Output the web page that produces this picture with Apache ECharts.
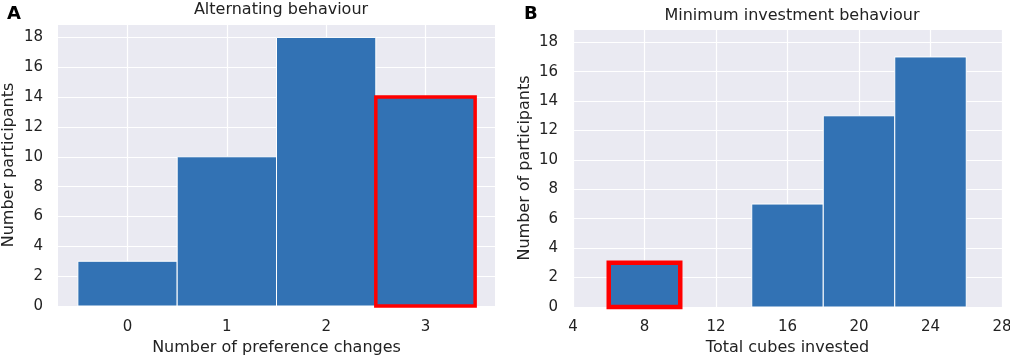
<!DOCTYPE html>
<html>
<head>
<meta charset="utf-8">
<script src="https://cdn.jsdelivr.net/npm/echarts@6/dist/echarts.min.js"></script>
<style>
html,body{margin:0;padding:0;background:#fff;}
#c{width:1010px;height:356px;}
</style>
</head>
<body>
<div id="c"></div>
<script>
// Panel A: alternating behaviour
const aBinEdges = [-0.5, 0.5, 1.5, 2.5, 3.5];
const aCounts = [3, 10, 18, 14];
const aTicks = [0, 1, 2, 3];
const aHighlight = [3];

// Panel B: minimum investment behaviour
const bBinEdges = [6, 10, 14, 18, 22, 26];
const bCounts = [3, 0, 7, 13, 17];
const bHighlight = [0];

const yTicks = [0, 2, 4, 6, 8, 10, 12, 14, 16, 18];

const FONT = 'DejaVu Sans';
const TXT = '#222222';
const BAR = '#3272B4';

function histData(edges, counts) {
  return counts.map((c, i) => [edges[i], edges[i + 1], c, i]);
}

function makeRender(highlight, redWidth) {
  return function (params, api) {
    const x0 = api.value(0), x1 = api.value(1), h = api.value(2), idx = api.value(3);
    if (h <= 0) return null;
    const p0 = api.coord([x0, h]);
    const p1 = api.coord([x1, 0]);
    const rect = { x: p0[0], y: p0[1], width: p1[0] - p0[0], height: p1[1] - p0[1] };
    const hl = highlight.indexOf(idx) >= 0;
    return {
      type: 'rect',
      shape: rect,
      style: hl
        ? { fill: BAR, stroke: '#FF0000', lineWidth: redWidth }
        : { fill: BAR, stroke: '#FFFFFF', lineWidth: 1 }
    };
  };
}

const yLabelFmt = v => (Number.isInteger(v) && v % 2 === 0) ? String(v) : '';

const chart = echarts.init(document.getElementById('c'));
chart.setOption({
  animation: false,
  backgroundColor: '#FFFFFF',
  textStyle: { fontFamily: FONT },
  title: [
    { text: 'A', left: 2, top: 0, textStyle: { fontFamily: FONT, fontWeight: 'bold', fontSize: 18, color: '#000' } },
    { text: 'B', left: 519, top: 0, textStyle: { fontFamily: FONT, fontWeight: 'bold', fontSize: 18, color: '#000' } },
    { text: 'Alternating behaviour', left: 276, textAlign: 'center', top: -3, textStyle: { fontFamily: FONT, fontWeight: 'normal', fontSize: 16, color: TXT } },
    { text: 'Minimum investment behaviour', left: 787, textAlign: 'center', top: 3, textStyle: { fontFamily: FONT, fontWeight: 'normal', fontSize: 16, color: TXT } }
  ],
  grid: [
    { left: 58, right: 515, top: 24, bottom: 50, show: true, backgroundColor: '#EAEAF2', borderWidth: 0, containLabel: false, outerBoundsMode: 'none' },
    { left: 573, right: 8, top: 29, bottom: 49, show: true, backgroundColor: '#EAEAF2', borderWidth: 0, containLabel: false, outerBoundsMode: 'none' }
  ],
  xAxis: [
    {
      type: 'value', gridIndex: 0, min: -0.7, max: 3.7,
      name: 'Number of preference changes', nameLocation: 'middle', nameGap: 33,
      nameTextStyle: { fontFamily: FONT, fontSize: 16, color: TXT },
      axisLine: { show: false }, axisTick: { show: false, customValues: aTicks },
      axisLabel: { customValues: aTicks, fontFamily: FONT, fontSize: 15, color: TXT, margin: 14 },
      splitLine: { show: true, lineStyle: { color: '#FFFFFF', width: 1.2 } }
    },
    {
      type: 'value', gridIndex: 1, min: 4, max: 28, interval: 4,
      name: 'Total cubes invested', nameLocation: 'middle', nameGap: 32,
      nameTextStyle: { fontFamily: FONT, fontSize: 16, color: TXT },
      axisLine: { show: false }, axisTick: { show: false },
      axisLabel: { fontFamily: FONT, fontSize: 15, color: TXT, margin: 13, showMinLabel: true, showMaxLabel: true },
      splitLine: { show: true, lineStyle: { color: '#FFFFFF', width: 1.2 } }
    }
  ],
  yAxis: [
    {
      type: 'value', gridIndex: 0, min: 0, max: 18.9, interval: 2,
      name: 'Number participants', nameLocation: 'middle', nameGap: 41,
      nameTextStyle: { fontFamily: FONT, fontSize: 16, color: TXT },
      axisLine: { show: false }, axisTick: { show: false },
      axisLabel: { fontFamily: FONT, fontSize: 15, color: TXT, margin: 15, formatter: yLabelFmt },
      splitLine: { show: true, lineStyle: { color: '#FFFFFF', width: 1.2 } }
    },
    {
      type: 'value', gridIndex: 1, min: 0, max: 18.9, interval: 2,
      name: 'Number of participants', nameLocation: 'middle', nameGap: 40,
      nameTextStyle: { fontFamily: FONT, fontSize: 16, color: TXT },
      axisLine: { show: false }, axisTick: { show: false },
      axisLabel: { fontFamily: FONT, fontSize: 15, color: TXT, margin: 15, formatter: yLabelFmt },
      splitLine: { show: true, lineStyle: { color: '#FFFFFF', width: 1.2 } }
    }
  ],
  series: [
    {
      type: 'custom', xAxisIndex: 0, yAxisIndex: 0, z: 3,
      renderItem: makeRender(aHighlight, 3.5),
      encode: { x: [0, 1], y: 2 },
      data: histData(aBinEdges, aCounts)
    },
    {
      type: 'custom', xAxisIndex: 1, yAxisIndex: 1, z: 3,
      renderItem: makeRender(bHighlight, 4.5),
      encode: { x: [0, 1], y: 2 },
      data: histData(bBinEdges, bCounts)
    }
  ]
});
</script>
</body>
</html>
